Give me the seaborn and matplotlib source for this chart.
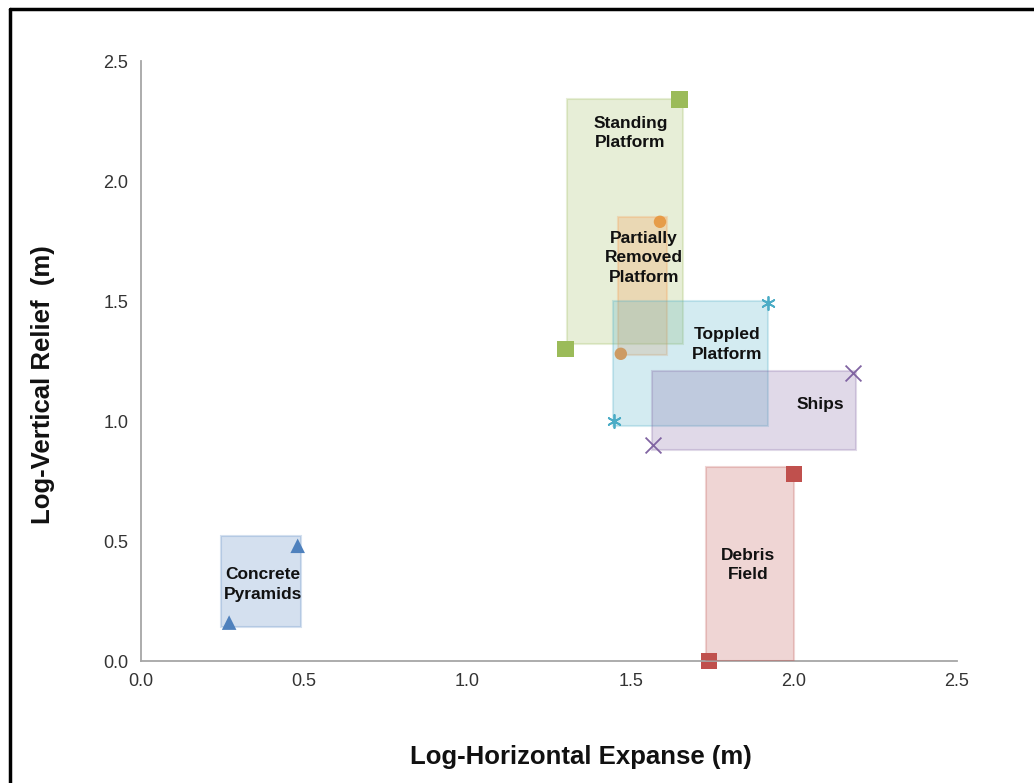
import matplotlib
matplotlib.use("Agg")
import matplotlib.pyplot as plt
import seaborn as sns
import pandas as pd
from matplotlib.patches import Rectangle
from matplotlib.lines import Line2D

# ---- data ----
categories = ["Concrete Pyramids", "Standing Platform", "Partially Removed Platform",
              "Toppled Platform", "Ships", "Debris Field"]
labels = ["Concrete\nPyramids", "Standing\nPlatform", "Partially\nRemoved\nPlatform",
          "Toppled\nPlatform", "Ships", "Debris\nField"]
# two points per category (log horizontal expanse, log vertical relief)
x_min_pts = [0.27, 1.30, 1.47, 1.45, 1.57, 1.74]
y_min_pts = [0.16, 1.30, 1.28, 1.00, 0.90, 0.00]
x_max_pts = [0.48, 1.65, 1.59, 1.92, 2.18, 2.00]
y_max_pts = [0.48, 2.34, 1.83, 1.49, 1.20, 0.78]
# shaded range boxes
box_x0 = [0.245, 1.305, 1.46, 1.445, 1.565, 1.73]
box_x1 = [0.49, 1.66, 1.61, 1.92, 2.19, 2.00]
box_y0 = [0.14, 1.32, 1.275, 0.98, 0.88, 0.00]
box_y1 = [0.52, 2.34, 1.85, 1.50, 1.21, 0.81]
# label anchor positions
lab_x = [0.374, 1.50, 1.54, 1.795, 2.08, 1.86]
lab_y = [0.32, 2.20, 1.68, 1.32, 1.07, 0.40]

colors = ["#4F81BD", "#9BBB59", "#F79646", "#4BACC6", "#8064A2", "#C0504D"]
markers = ["^", "s", "o", (6, 2, 0), "x", "s"]
msizes = [110, 140, 80, 90, 130, 140]

sns.set_theme(style="white")
plt.rcParams["font.family"] = ["Liberation Sans", "DejaVu Sans"]

fig = plt.figure(figsize=(10.34, 7.83), dpi=100)
ax = fig.add_axes([141/1034, 1 - 661/783, 816/1034, 600/783])

for i, cat in enumerate(categories):
    df = pd.DataFrame({"x": [x_min_pts[i], x_max_pts[i]],
                       "y": [y_min_pts[i], y_max_pts[i]]})
    m = markers[i]
    kw = dict(marker=m, s=msizes[i], color=colors[i], zorder=2, clip_on=False)
    if m == "x" or isinstance(m, tuple):
        kw.update(linewidth=1.3)
    else:
        kw.update(edgecolor="none")
    sns.scatterplot(data=df, x="x", y="y", ax=ax, legend=False, **kw)
    ax.add_patch(Rectangle((box_x0[i], box_y0[i]), box_x1[i] - box_x0[i],
                           box_y1[i] - box_y0[i], facecolor=colors[i], alpha=0.24,
                           edgecolor=colors[i], linewidth=1.5, zorder=3))
    ax.text(lab_x[i], lab_y[i], labels[i], ha="center", va="center",
            fontsize=12.5, fontweight="bold", color="#111111", zorder=4,
            linespacing=1.4)

ax.set_xlim(0, 2.5)
ax.set_ylim(0, 2.5)
ticks = [0.0, 0.5, 1.0, 1.5, 2.0, 2.5]
ax.set_xticks(ticks)
ax.set_yticks(ticks)
ax.set_xticklabels([f"{t:.1f}" for t in ticks])
ax.set_yticklabels([f"{t:.1f}" for t in ticks])
ax.tick_params(axis="both", direction="out", length=4, width=1, color="#a6a6a6",
               labelsize=13, labelcolor="#333333", pad=5)
ax.tick_params(axis="x", pad=5)
for side in ["top", "right"]:
    ax.spines[side].set_visible(False)
for side in ["left", "bottom"]:
    ax.spines[side].set_color("#a6a6a6")
    ax.spines[side].set_linewidth(1.3)
ax.grid(False)

ax.set_xlabel("Log-Horizontal Expanse (m)", fontsize=18.5, fontweight="bold", color="#111111")
ax.set_ylabel("Log-Vertical Relief  (m)", fontsize=18.5, fontweight="bold", color="#111111")
ax.xaxis.set_label_coords(0.539, -0.14)
ax.yaxis.set_label_coords(-0.105, 0.46)

# figure border (left and top visible)
fig.add_artist(Line2D([10/1034, 10/1034], [0, 1 - 9/783], transform=fig.transFigure,
                      color="black", linewidth=2.5))
fig.add_artist(Line2D([10/1034, 1], [1 - 9/783, 1 - 9/783], transform=fig.transFigure,
                      color="black", linewidth=2.5))

fig.savefig("out.png", dpi=100)
